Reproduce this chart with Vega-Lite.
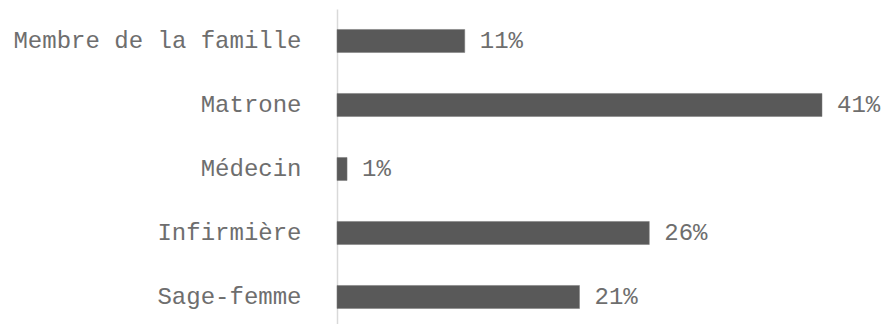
{
  "$schema": "https://vega.github.io/schema/vega-lite/v6.json",
  "width": 485,
  "height": 320,
  "autosize": {"type": "none"},
  "padding": {"left": 337, "top": 9, "right": 59, "bottom": 0},
  "background": "white",
  "config": {"view": {"stroke": null}},
  "data": {
    "values": [
      {"cat": "Membre de la famille", "value": 10.8, "label": "11%"},
      {"cat": "Matrone", "value": 41, "label": "41%"},
      {"cat": "Médecin", "value": 0.85, "label": "1%"},
      {"cat": "Infirmière", "value": 26.4, "label": "26%"},
      {"cat": "Sage-femme", "value": 20.5, "label": "21%"}
    ]
  },
  "encoding": {
    "y": {
      "field": "cat",
      "type": "nominal",
      "sort": null,
      "scale": {"paddingInner": 0.64, "paddingOuter": 0.32},
      "axis": {
        "title": null,
        "ticks": false,
        "labelFont": "Liberation Mono",
        "labelFontSize": 24,
        "labelFontWeight": "normal",
        "labelColor": "#6e6e6e",
        "labelPadding": 36,
        "labelLimit": 0,
        "domainColor": "#d9d9d9",
        "domainWidth": 1.5
      }
    },
    "x": {
      "field": "value",
      "type": "quantitative",
      "scale": {"domain": [0, 41], "nice": false, "zero": true},
      "axis": null
    }
  },
  "layer": [
    {"mark": {"type": "bar", "color": "#595959", "stroke": "#7a7a7a", "strokeWidth": 0.5}},
    {
      "mark": {"type": "text", "align": "left", "dx": 15, "font": "Liberation Mono", "fontSize": 24, "color": "#6e6e6e"},
      "encoding": {"text": {"field": "label"}}
    }
  ]
}
